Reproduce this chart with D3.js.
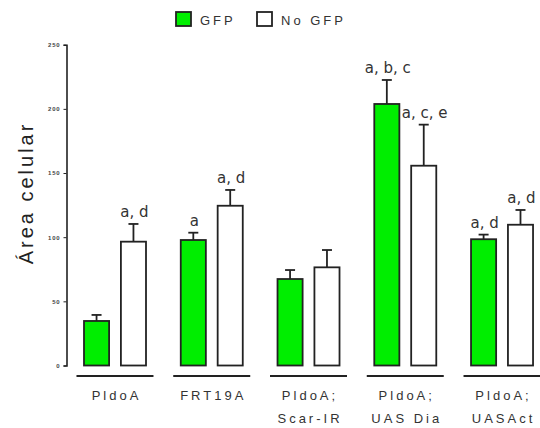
<!DOCTYPE html>
<html>
<head>
<meta charset="utf-8">
<script src="https://cdn.jsdelivr.net/npm/d3@7"></script>
<style>
  body { margin: 0; background: #fff; }
  svg text { font-family: "Liberation Sans", Arial, sans-serif; }
</style>
</head>
<body>
<div id="chart"></div>
<script>
// data
const groups = ['PldoA', 'FRT19A', 'PldoA;\nScar-IR', 'PldoA;\nUAS Dia', 'PldoA;\nUASAct'];
const series = ['GFP', 'No GFP'];
const gfpMean = [34.7, 97.8, 67.4, 203.8, 98.4];
const gfpErr = [4.7, 5.7, 7.0, 18.7, 3.6];
const noGfpMean = [96.5, 124.5, 76.5, 155.7, 109.7];
const noGfpErr = [13.8, 12.3, 13.5, 32.0, 11.5];
const gfpLabels = ['', 'a', '', 'a, b, c', 'a, d'];
const noGfpLabels = ['a, d', 'a, d', '', 'a, c, e', 'a, d'];
const yTicks = [0, 50, 100, 150, 200, 250];

const width = 540, height = 428;
const colors = { 'GFP': '#00ee00', 'No GFP': '#ffffff' };

const svg = d3.select('#chart').append('svg')
  .attr('width', width)
  .attr('height', height);

const x = d3.scaleBand().domain(groups).range([66.6, 550.4]).padding(0);
const xSub = d3.scaleBand().domain(series).range([17.4, 79.4]).paddingInner(0.32).paddingOuter(0);
const y = d3.scaleLinear().domain([0, 250]).range([365.5, 44.7]);

// y axis
const yAxis = svg.append('g')
  .attr('transform', 'translate(66.5,0)')
  .call(d3.axisLeft(y).tickValues(yTicks).tickSize(3).tickPadding(3));
yAxis.select('.domain').attr('stroke', '#222').attr('stroke-width', 1.6);
yAxis.selectAll('.tick line').attr('stroke', '#222').attr('stroke-width', 1);
yAxis.selectAll('.tick text')
  .attr('font-size', 6)
  .attr('font-weight', 'bold')
  .attr('letter-spacing', 0.8)
  .attr('fill', '#444');

svg.append('text')
  .attr('transform', 'translate(33,193) rotate(-90)')
  .attr('text-anchor', 'middle')
  .attr('font-size', 20)
  .attr('letter-spacing', 3)
  .attr('fill', '#222')
  .text('Área celular');

// rows for bars
const rows = [];
groups.forEach((g, i) => {
  rows.push({ g, s: 'GFP', v: gfpMean[i], e: gfpErr[i], lab: gfpLabels[i] });
  rows.push({ g, s: 'No GFP', v: noGfpMean[i], e: noGfpErr[i], lab: noGfpLabels[i] });
});

const bx = d => x(d.g) + xSub(d.s);
const bw = xSub.bandwidth();

// error bars (behind bars)
const err = svg.append('g').attr('stroke', '#222').attr('stroke-width', 1.8);
err.selectAll('line.v').data(rows).join('line')
  .attr('class', 'v')
  .attr('x1', d => bx(d) + bw / 2).attr('x2', d => bx(d) + bw / 2)
  .attr('y1', d => y(d.v)).attr('y2', d => y(d.v + d.e));
err.selectAll('line.c').data(rows).join('line')
  .attr('class', 'c')
  .attr('x1', d => bx(d) + bw / 2 - 5).attr('x2', d => bx(d) + bw / 2 + 5)
  .attr('y1', d => y(d.v + d.e)).attr('y2', d => y(d.v + d.e));

svg.append('g').selectAll('rect').data(rows).join('rect')
  .attr('x', d => bx(d))
  .attr('y', d => y(d.v))
  .attr('width', bw)
  .attr('height', d => y(0) - y(d.v))
  .attr('fill', d => colors[d.s])
  .attr('stroke', '#222')
  .attr('stroke-width', 1.8);

// significance letters
svg.append('g').selectAll('text').data(rows.filter(d => d.lab)).join('text')
  .attr('x', d => bx(d) + bw / 2 + 1)
  .attr('y', d => y(d.v + d.e) - 7)
  .attr('text-anchor', 'middle')
  .attr('font-size', 15)
  .attr('fill', '#333')
  .style('font-family', '"DejaVu Sans", sans-serif')
  .text(d => d.lab);

// group underlines and labels
const gl = svg.append('g').selectAll('g').data(groups).join('g')
  .attr('transform', d => `translate(${x(d) + x.bandwidth() / 2},0)`);
gl.append('line')
  .attr('x1', -38.5).attr('x2', 38.5)
  .attr('y1', 376).attr('y2', 376)
  .attr('stroke', '#222').attr('stroke-width', 1.8);
gl.each(function (d) {
  const t = d3.select(this).append('text')
    .attr('text-anchor', 'middle')
    .attr('font-size', 13)
    .attr('letter-spacing', 3)
    .attr('fill', '#333');
  d.split('\n').forEach((line, i) => {
    t.append('tspan').attr('x', 1.5).attr('y', 400 + i * 23).text(line);
  });
});

// legend
const leg = svg.append('g');
const legX = [175, 256];
series.forEach((s, i) => {
  leg.append('rect')
    .attr('x', legX[i] + 1).attr('y', 12)
    .attr('width', 15).attr('height', 14)
    .attr('fill', colors[s])
    .attr('stroke', '#222').attr('stroke-width', 1.8);
  leg.append('text')
    .attr('x', legX[i] + 25).attr('y', 25)
    .attr('font-size', 13)
    .attr('letter-spacing', 3)
    .attr('fill', '#333')
    .text(s);
});
</script>
</body>
</html>
